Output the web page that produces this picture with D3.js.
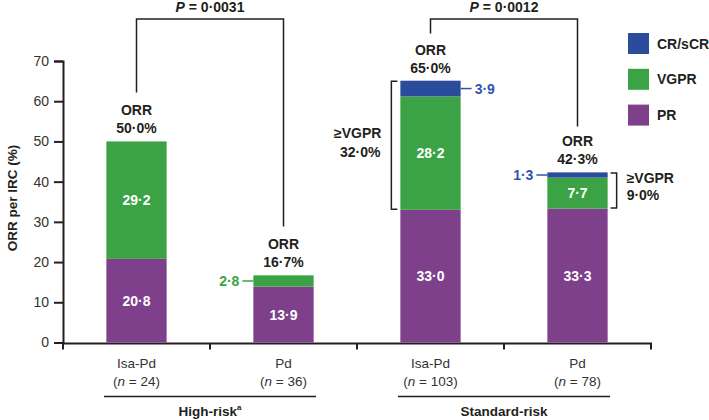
<!DOCTYPE html>
<html lang="en">
<head>
<meta charset="UTF-8">
<script src="https://d3js.org/d3.v7.min.js"></script>
<style>
  body { margin: 0; background: #fff; }
  text { font-family: "Liberation Sans", Arial, sans-serif; }
</style>
</head>
<body>
<div id="chart"></div>
<script>
// Data
var groups = ["Isa-Pd HR", "Pd HR", "Isa-Pd SR", "Pd SR"];
var armNames = ["Isa-Pd", "Pd", "Isa-Pd", "Pd"];
var armN = ["24", "36", "103", "78"];
var prValues = [20.8, 13.9, 33.0, 33.3];
var vgprValues = [29.2, 2.8, 28.2, 7.7];
var crValues = [0, 0, 3.9, 1.3];
var orrLabels = ["50·0%", "16·7%", "65·0%", "42·3%"];
var seriesKeys = ["PR", "VGPR", "CR/sCR"];
var legendKeys = ["CR/sCR", "VGPR", "PR"];
var yTicks = [0, 10, 20, 30, 40, 50, 60, 70];
var pValues = ["0·0031", "0·0012"];
var vgprPct = ["32·0%", "9·0%"];

var colors = { "PR": "#7e408b", "VGPR": "#3ba346", "CR/sCR": "#2a4c9b" };
var ink = "#231f20";

var W = 709, H = 420;
var svg = d3.select("#chart").append("svg")
    .attr("width", W)
    .attr("height", H);

// scales
var x = d3.scaleBand()
    .domain(groups)
    .range([63, 651])
    .paddingInner(0.59)
    .paddingOuter(0.295);
var xOuter = d3.scaleBand().domain(groups).range([63, 651]).padding(0);

var y = d3.scaleLinear().domain([0, 70]).range([342.5, 61]);

var table = groups.map(function (g, i) {
    return { group: g, "PR": prValues[i], "VGPR": vgprValues[i], "CR/sCR": crValues[i] };
});
var stacked = d3.stack().keys(seriesKeys)(table);

// y axis
var yAxis = svg.append("g")
    .attr("transform", "translate(63,0)")
    .call(d3.axisLeft(y).tickValues(yTicks).tickSize(9).tickPadding(5));
yAxis.select(".domain").attr("stroke", ink).attr("stroke-width", 2);
yAxis.selectAll(".tick line").attr("stroke", ink).attr("stroke-width", 2);
yAxis.selectAll("text").attr("font-size", 14).attr("fill", "#333")
    .style("font-family", "Liberation Sans, Arial, sans-serif");

// x axis with ticks at band edges
var edges = groups.map(function (g) { return xOuter(g); }).concat([651]);
svg.append("line")
    .attr("x1", 62).attr("x2", 652)
    .attr("y1", y(0) + 1).attr("y2", y(0) + 1)
    .attr("stroke", ink).attr("stroke-width", 2);
svg.selectAll("line.xtick")
    .data(edges)
    .enter().append("line")
    .attr("class", "xtick")
    .attr("x1", function (d) { return d; })
    .attr("x2", function (d) { return d; })
    .attr("y1", y(0) + 1)
    .attr("y2", y(0) + 7)
    .attr("stroke", ink).attr("stroke-width", 2);

// y label
svg.append("text")
    .attr("transform", "translate(17,198) rotate(-90)")
    .attr("text-anchor", "middle")
    .attr("font-size", 13.5)
    .attr("font-weight", "bold")
    .attr("fill", ink)
    .text("ORR per IRC (%)");

// bars
svg.selectAll("g.series")
    .data(stacked)
    .enter().append("g")
    .attr("class", "series")
    .attr("fill", function (d) { return colors[d.key]; })
    .selectAll("rect")
    .data(function (d) { return d; })
    .enter().append("rect")
    .attr("x", function (d) { return x(d.data.group); })
    .attr("y", function (d) { return y(d[1]); })
    .attr("width", x.bandwidth())
    .attr("height", function (d) { return y(d[0]) - y(d[1]); });

// labels inside segments
function fmt(v) { return v.toFixed(1).replace(".", "·"); }
var inside = [];
groups.forEach(function (g, i) {
    inside.push({ g: g, v: prValues[i], mid: prValues[i] / 2 });
    if (vgprValues[i] > 5) inside.push({ g: g, v: vgprValues[i], mid: prValues[i] + vgprValues[i] / 2 });
});
svg.selectAll("text.seg")
    .data(inside)
    .enter().append("text")
    .attr("class", "seg")
    .attr("x", function (d) { return x(d.g) + x.bandwidth() / 2; })
    .attr("y", function (d) { return y(d.mid) + 5; })
    .attr("text-anchor", "middle")
    .attr("font-size", 14)
    .attr("font-weight", "bold")
    .attr("fill", "#fff")
    .text(function (d) { return fmt(d.v); });

// small outside labels with leader lines
var outside = [
    { g: groups[1], v: vgprValues[1], mid: prValues[1] + vgprValues[1] / 2, side: -1, color: colors["VGPR"] },
    { g: groups[2], v: crValues[2], mid: prValues[2] + vgprValues[2] + crValues[2] / 2, side: 1, color: "#2e56ad" },
    { g: groups[3], v: crValues[3], mid: prValues[3] + vgprValues[3] + crValues[3] / 2, side: -1, color: "#2e56ad" }
];
outside.forEach(function (d) {
    var edge = d.side > 0 ? x(d.g) + x.bandwidth() : x(d.g);
    svg.append("line")
        .attr("x1", edge).attr("x2", edge + d.side * 11)
        .attr("y1", y(d.mid)).attr("y2", y(d.mid))
        .attr("stroke", d.color).attr("stroke-width", 1.5);
    svg.append("text")
        .attr("x", edge + d.side * 14)
        .attr("y", y(d.mid) + 5)
        .attr("text-anchor", d.side > 0 ? "start" : "end")
        .attr("font-size", 14)
        .attr("font-weight", "bold")
        .attr("fill", d.color)
        .text(fmt(d.v));
});

// ORR labels above bars
groups.forEach(function (g, i) {
    var top = y(prValues[i] + vgprValues[i] + crValues[i]);
    var cx = x(g) + x.bandwidth() / 2;
    svg.append("text").attr("x", cx).attr("y", top - 26)
        .attr("text-anchor", "middle").attr("font-size", 14).attr("font-weight", "bold")
        .attr("fill", ink).text("ORR");
    svg.append("text").attr("x", cx).attr("y", top - 8)
        .attr("text-anchor", "middle").attr("font-size", 14).attr("font-weight", "bold")
        .attr("fill", ink).text(orrLabels[i]);
});

// P value brackets
var brackets = [
    { a: groups[0], b: groups[1], ya: 92.5, yb: 226.5, p: pValues[0] },
    { a: groups[2], b: groups[3], ya: 33.5, yb: 126.5, p: pValues[1] }
];
brackets.forEach(function (d) {
    var xa = x(d.a) + x.bandwidth() / 2, xb = x(d.b) + x.bandwidth() / 2;
    svg.append("path")
        .attr("d", "M" + xa + "," + d.ya + "V19H" + xb + "V" + d.yb)
        .attr("fill", "none").attr("stroke", ink).attr("stroke-width", 1.5);
    var t = svg.append("text").attr("x", (xa + xb) / 2).attr("y", 12)
        .attr("text-anchor", "middle").attr("font-size", 14).attr("font-weight", "bold")
        .attr("fill", ink);
    t.append("tspan").attr("font-style", "italic").text("P");
    t.append("tspan").text(" = " + d.p);
});

// >=VGPR brackets
var vb = [
    { g: groups[2], i: 2, side: -1, pct: vgprPct[0] },
    { g: groups[3], i: 3, side: 1, pct: vgprPct[1] }
];
vb.forEach(function (d) {
    var yTop = y(prValues[d.i] + vgprValues[d.i] + crValues[d.i]) + 0.5;
    var yBot = y(prValues[d.i]) - 0.5;
    var xv = d.side < 0 ? x(d.g) - 9 : x(d.g) + x.bandwidth() + 9;
    var xt = xv - d.side * 6;
    svg.append("path")
        .attr("d", "M" + xt + "," + yTop + "H" + xv + "V" + yBot + "H" + xt)
        .attr("fill", "none").attr("stroke", ink).attr("stroke-width", 1.5);
    var tx = d.side < 0 ? xv - 10 : xv + 10;
    var anchor = d.side < 0 ? "end" : "start";
    var mid = (yTop + yBot) / 2;
    svg.append("text").attr("x", tx).attr("y", mid - 7)
        .attr("text-anchor", anchor).attr("font-size", 14).attr("font-weight", "bold")
        .attr("fill", ink).text("≥VGPR");
    svg.append("text").attr("x", d.side < 0 ? tx - 1 : tx).attr("y", d.side < 0 ? mid + 11.5 : mid + 9.5)
        .attr("text-anchor", anchor).attr("font-size", 14).attr("font-weight", "bold")
        .attr("fill", ink).text(d.pct);
});

// x category labels
groups.forEach(function (g, i) {
    var cx = x(g) + x.bandwidth() / 2;
    svg.append("text").attr("x", cx).attr("y", 368)
        .attr("text-anchor", "middle").attr("font-size", 13.5).attr("fill", "#333")
        .text(armNames[i]);
    var t = svg.append("text").attr("x", cx).attr("y", 386)
        .attr("text-anchor", "middle").attr("font-size", 13.5).attr("fill", "#333");
    t.append("tspan").text("(");
    t.append("tspan").attr("font-style", "italic").text("n");
    t.append("tspan").text(" = " + armN[i] + ")");
});

// risk group lines
var riskGroups = [
    { x1: 104, x2: 316, label: "High-risk", sup: "a" },
    { x1: 398, x2: 610, label: "Standard-risk", sup: "" }
];
riskGroups.forEach(function (d) {
    svg.append("line").attr("x1", d.x1).attr("x2", d.x2).attr("y1", 396.5).attr("y2", 396.5)
        .attr("stroke", ink).attr("stroke-width", 1.5);
    var t = svg.append("text").attr("x", (d.x1 + d.x2) / 2).attr("y", 416)
        .attr("text-anchor", "middle").attr("font-size", 13.5).attr("font-weight", "bold")
        .attr("fill", ink).text(d.label);
    if (d.sup) t.append("tspan").attr("font-size", 8).attr("dy", -6).text(d.sup);
});

// legend
var legend = svg.selectAll("g.legend")
    .data(legendKeys)
    .enter().append("g")
    .attr("class", "legend")
    .attr("transform", function (d, i) { return "translate(628," + (33 + i * 35.8) + ")"; });
legend.append("rect")
    .attr("width", 21).attr("height", 21)
    .attr("fill", function (d) { return colors[d]; });
legend.append("text")
    .attr("x", 29).attr("y", 15.5)
    .attr("font-size", 14).attr("font-weight", "bold").attr("fill", ink)
    .text(function (d) { return d; });
</script>
</body>
</html>
